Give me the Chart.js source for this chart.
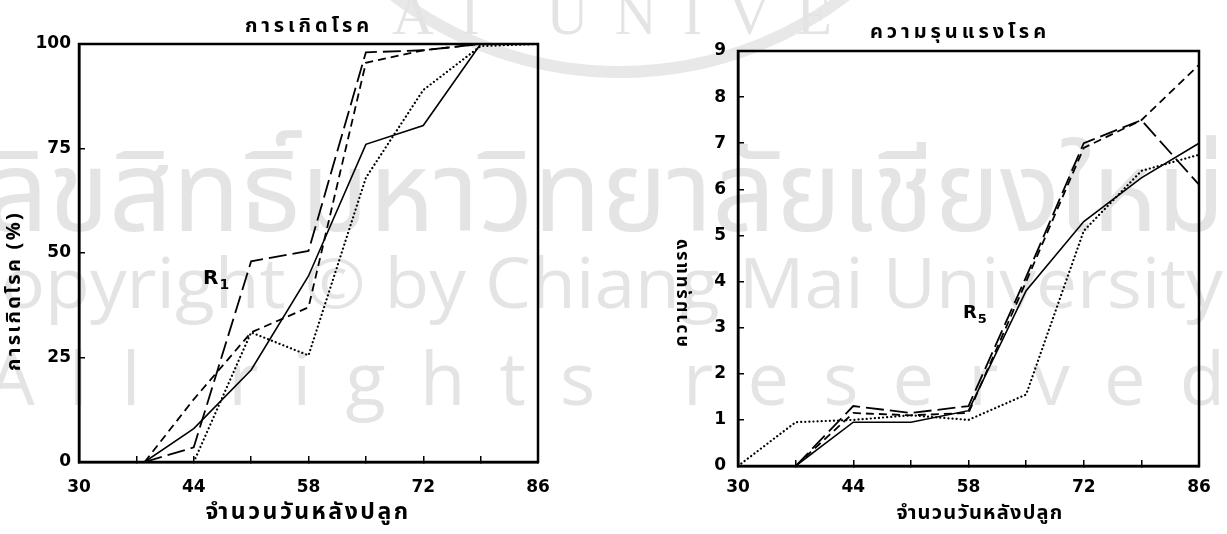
<!DOCTYPE html>
<html lang="th">
<head>
<meta charset="UTF-8">
<title>การเกิดโรค และ ความรุนแรงโรค</title>
<script src="https://cdn.jsdelivr.net/npm/chart.js"></script>
<style>
  body { margin: 0; background: #fff; }
  #wrap { position: relative; width: 1227px; height: 534px; overflow: hidden; }
  #mark { position: absolute; left: 0; top: 0; }
  canvas { position: absolute; top: 0; }
  #left { left: 0; }
  #right { left: 610px; }
</style>
</head>
<body>
<div id="wrap">
  <svg id="mark" width="1227" height="534" xmlns="http://www.w3.org/2000/svg">
    <circle cx="620" cy="-300" r="372" fill="none" stroke="#e8e8e8" stroke-width="12"/>
    <g fill="#e4e4e4">
      <text x="392" y="34" font-family="Liberation Serif" font-size="58" textLength="440" lengthAdjust="spacing">AI UNIVE</text>
      <text x="-15" y="231" font-family="'Noto Sans Thai', Loma, Garuda, sans-serif" font-size="112" textLength="1240" lengthAdjust="spacingAndGlyphs">ลิขสิทธิ์มหาวิทยาลัยเชียงใหม่</text>
      <text x="-45" y="308" font-family="'Open Sans'" font-size="70" textLength="1268" lengthAdjust="spacingAndGlyphs">Copyright © by Chiang Mai University</text>
      <text x="-12" y="405" font-family="'Open Sans'" font-size="74" textLength="1237" lengthAdjust="spacing">All rights reserved</text>
    </g>
  </svg>
  <canvas id="left" width="600" height="534"></canvas>
  <canvas id="right" width="617" height="534"></canvas>
</div>
<script>
// x values: days after planting
const xTicks = [30, 44, 58, 72, 86];

// left chart: การเกิดโรค (%)  R1
const incDays = [38, 44, 51, 58, 65, 72, 79, 86];
const incSolid = [0, 8, 22, 44.5, 76, 80.5, 100, 100];
const incLongDash = [0, 3.5, 48, 50.5, 98, 98.5, 100, 100];
const incShortDash = [0, 15, 31, 37, 95.5, 98.5, 100, 100];
const incDotted = [0, 0, 31, 25.5, 68, 89, 99.5, 100];
const incYTicks = [0, 25, 50, 75, 100];

// right chart: ความรุนแรงโรค  R5
const sevDays = [37, 44, 51, 58, 65, 72, 79, 86];
const sevSolid = [0, 0.95, 0.95, 1.2, 3.8, 5.3, 6.25, 7.0];
const sevLongDash = [0, 1.3, 1.15, 1.3, 4.1, 7.0, 7.5, 6.1];
const sevShortDash = [0, 1.15, 1.1, 1.15, 4.0, 6.9, 7.5, 8.7];
const sevDottedDays = [30, 37, 44, 51, 58, 65, 72, 79, 86];
const sevDotted = [0, 0.95, 1.0, 1.1, 1.0, 1.55, 5.1, 6.4, 6.75];
const sevYTicks = [0, 1, 2, 3, 4, 5, 6, 7, 8, 9];

const THAI = '"Noto Sans Thai", "Noto Sans Thai UI", Loma, Garuda, "Tlwg Typo", "Noto Sans", sans-serif';
const TICKFONT = { family: '"DejaVu Sans", sans-serif', size: 17, weight: 'bold' };

function pts(xs, ys) {
    return xs.map((x, i) => ({ x: x, y: ys[i] }));
}

function line(label, data, dash, width) {
    return {
        label: label,
        data: data,
        borderColor: '#000',
        borderWidth: width || 1.6,
        borderDash: dash,
        borderCapStyle: dash.length && dash[0] < 1 ? 'round' : 'butt',
        pointRadius: 0,
        fill: false,
        tension: 0
    };
}

// draws text with letter spacing so it fills a given width
function fitText(ctx, text, x, y, width) {
    ctx.letterSpacing = '0px';
    const w0 = ctx.measureText(text).width;
    ctx.letterSpacing = '1px';
    const w1 = ctx.measureText(text).width;
    const s = (w1 - w0) > 0 ? (width - w0) / (w1 - w0) : 0;
    ctx.letterSpacing = s + 'px';
    ctx.fillText(text, x, y);
    ctx.letterSpacing = '0px';
}

const frameAndText = {
    id: 'frameAndText',
    afterDraw(chart, args, opts) {
        const { ctx, chartArea: a } = chart;
        ctx.save();
        ctx.strokeStyle = '#000';
        ctx.lineWidth = 2.5;
        ctx.strokeRect(a.left, a.top, a.right - a.left, a.bottom - a.top);

        ctx.fillStyle = '#000';
        ctx.textAlign = 'center';
        ctx.textBaseline = 'middle';

        ctx.font = 'bold 20px ' + THAI;
        fitText(ctx, opts.title, opts.titleX, opts.titleY, opts.titleW);

        ctx.font = 'bold ' + opts.xLabelSize + 'px ' + THAI;
        fitText(ctx, opts.xLabel, opts.xLabelX, opts.xLabelY, opts.xLabelW);

        ctx.save();
        ctx.translate(opts.yLabelX, opts.yLabelY);
        ctx.rotate(-Math.PI / 2);
        ctx.font = 'bold ' + opts.yLabelSize + 'px ' + THAI;
        fitText(ctx, opts.yLabel, 0, 0, opts.yLabelW);
        ctx.restore();

        ctx.textAlign = 'left';
        ctx.textBaseline = 'alphabetic';
        ctx.font = 'bold ' + opts.rSize + 'px "DejaVu Sans", sans-serif';
        ctx.fillText('R', opts.rX, opts.rY);
        const rw = ctx.measureText('R').width;
        ctx.font = 'bold ' + Math.round(opts.rSize * 0.7) + 'px "DejaVu Sans", sans-serif';
        ctx.fillText(opts.rSub, opts.rX + rw + 1, opts.rY + 5);
        ctx.restore();
    }
};

function makeChart(id, cfg) {
    new Chart(document.getElementById(id), {
        type: 'line',
        data: { datasets: cfg.datasets },
        plugins: [frameAndText],
        options: {
            responsive: false,
            animation: false,
            layout: { padding: cfg.padding },
            plugins: {
                legend: { display: false },
                tooltip: { enabled: false },
                frameAndText: cfg.text
            },
            scales: {
                x: {
                    type: 'linear',
                    min: 30,
                    max: 86,
                    ticks: {
                        stepSize: 7,
                        autoSkip: false,
                        maxRotation: 0,
                        padding: cfg.xPad,
                        color: '#000',
                        font: TICKFONT,
                        callback: v => xTicks.includes(v) ? v : ''
                    },
                    grid: { drawOnChartArea: false, tickLength: -6, color: '#000', lineWidth: 1.5 },
                    border: { color: '#000', width: 2.5 },
                    afterFit: s => { s.height = cfg.xHeight; s.paddingLeft = 0; s.paddingRight = 0; }
                },
                y: {
                    min: cfg.yTicks[0],
                    max: cfg.yTicks[cfg.yTicks.length - 1],
                    ticks: {
                        stepSize: cfg.yTicks[1] - cfg.yTicks[0],
                        padding: cfg.yPad,
                        color: '#000',
                        font: TICKFONT
                    },
                    grid: { drawOnChartArea: false, tickLength: -6, color: '#000', lineWidth: 1.5 },
                    border: { color: '#000', width: 2.5 },
                    afterFit: s => { s.width = cfg.yWidth; s.paddingTop = 0; s.paddingBottom = 0; }
                }
            }
        }
    });
}

makeChart('left', {
    padding: { left: 30, right: 62, top: 44, bottom: 0 },
    xHeight: 72,
    yWidth: 49,
    xPad: 21,
    yPad: 14,
    yTicks: incYTicks,
    datasets: [
        line('solid', pts(incDays, incSolid), [], 1.6),
        line('long dash', pts(incDays, incLongDash), [18, 6], 1.8),
        line('short dash', pts(incDays, incShortDash), [8, 5], 1.8),
        line('dotted', pts(incDays, incDotted), [0.1, 4], 2.2)
    ],
    text: {
        title: 'การเกิดโรค', titleX: 309, titleY: 28, titleW: 128,
        xLabel: 'จำนวนวันหลังปลูก', xLabelX: 308, xLabelY: 514, xLabelW: 205, xLabelSize: 23,
        yLabel: 'การเกิดโรค (%)', yLabelX: 16, yLabelY: 291, yLabelW: 160, yLabelSize: 20,
        rX: 203, rY: 284, rSize: 20, rSub: '1'
    }
});

makeChart('right', {
    padding: { left: 70, right: 28, top: 51, bottom: 0 },
    xHeight: 68,
    yWidth: 58,
    xPad: 17,
    yPad: 18,
    yTicks: sevYTicks,
    datasets: [
        line('solid', pts(sevDays, sevSolid), [], 1.6),
        line('long dash', pts(sevDays, sevLongDash), [18, 6], 1.8),
        line('short dash', pts(sevDays, sevShortDash), [8, 5], 1.8),
        line('dotted', pts(sevDottedDays, sevDotted), [0.1, 4], 2.2)
    ],
    text: {
        title: 'ความรุนแรงโรค', titleX: 350, titleY: 34, titleW: 180,
        xLabel: 'จำนวนวันหลังปลูก', xLabelX: 370, xLabelY: 515, xLabelW: 167, xLabelSize: 20,
        yLabel: 'ความรุนแรง', yLabelX: 73, yLabelY: 292, yLabelW: 110, yLabelSize: 18,
        rX: 353, rY: 318, rSize: 18, rSub: '5'
    }
});
</script>
</body>
</html>
